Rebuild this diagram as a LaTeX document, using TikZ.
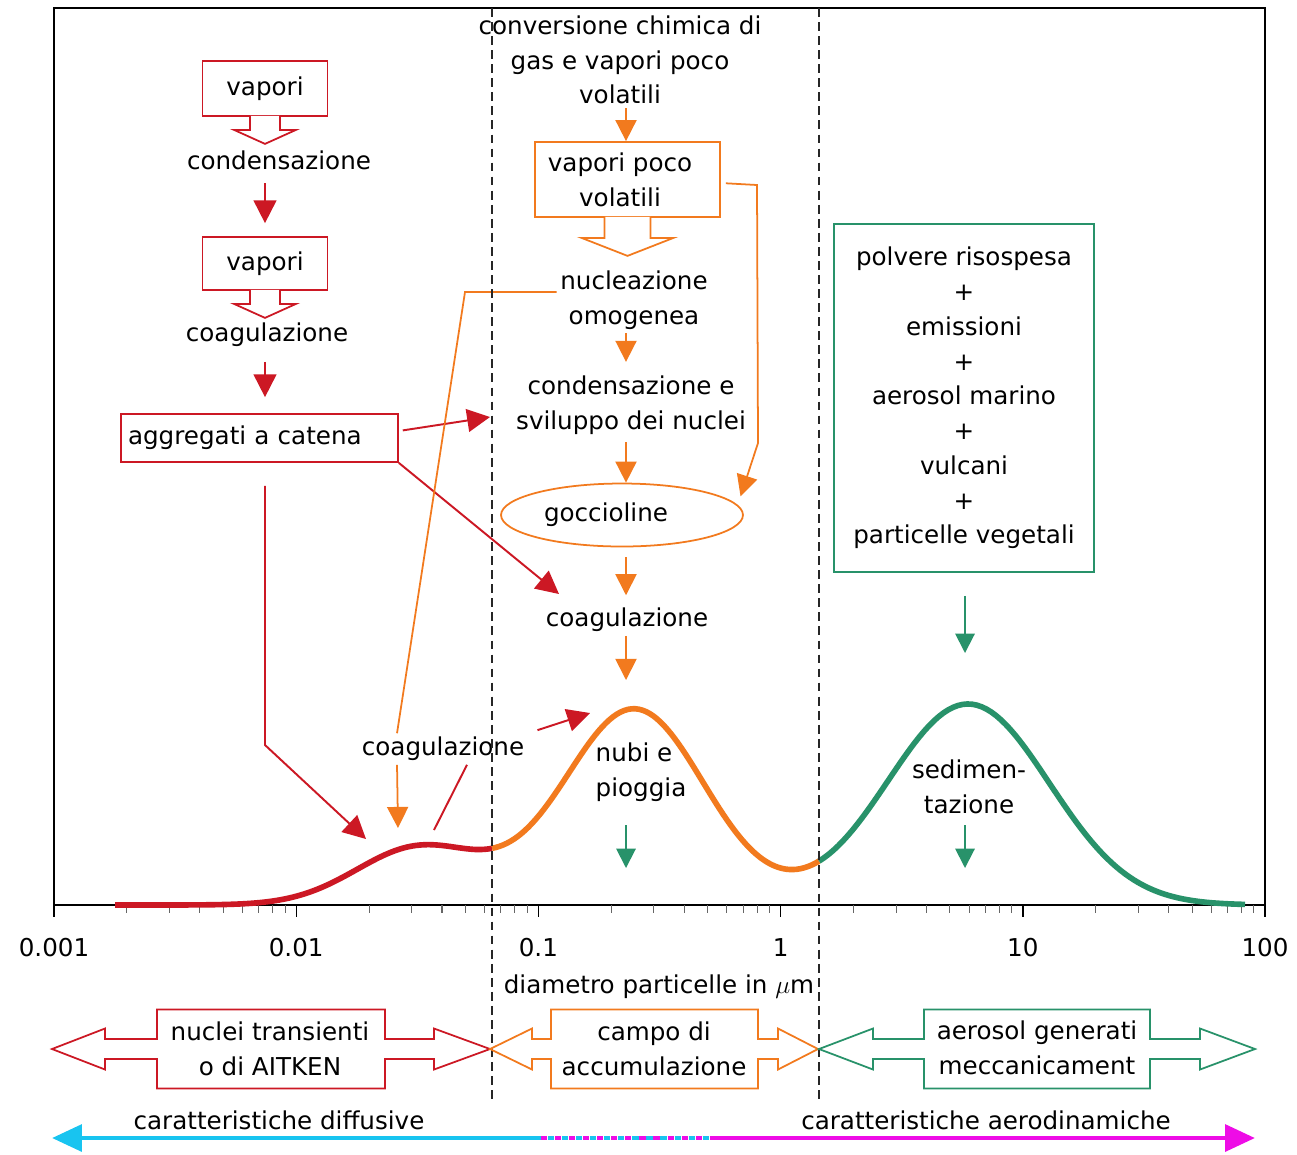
\documentclass[tikz,border=0pt]{standalone}
\usepackage{fontspec}
\setmainfont{DejaVu Sans}
\usetikzlibrary{arrows.meta}
\usetikzlibrary{shapes.geometric}
\definecolor{aitkenred}{RGB}{204,24,36}
\definecolor{accuorange}{RGB}{242,122,30}
\definecolor{mechgreen}{RGB}{40,146,106}
\definecolor{diffcyan}{RGB}{24,196,240}
\definecolor{aeromagenta}{RGB}{238,12,230}

\begin{document}
\begin{tikzpicture}[
    x=0.02cm, y=-0.02cm,
    every node/.style={font=\fontsize{14}{19.8}\selectfont, inner sep=2pt, align=center},
    redbox/.style={rectangle, draw=aitkenred, line width=1pt},
    orangebox/.style={rectangle, draw=accuorange, line width=1pt},
    greenbox/.style={rectangle, draw=mechgreen, line width=1pt},
    redarrow/.style={draw=aitkenred, line width=1.1pt, -{Triangle[length=13pt, width=13pt]}},
    redline/.style={draw=aitkenred, line width=1.1pt},
    orangearrow/.style={draw=accuorange, line width=1pt, -{Triangle[length=12pt, width=12pt]}},
    orangeline/.style={draw=accuorange, line width=1pt},
    greenarrow/.style={draw=mechgreen, line width=1.1pt, -{Triangle[length=11pt, width=11pt]}},
    mode/.style={line width=3.2pt, line join=round},
    boundary/.style={black!85, line width=0.8pt, dash pattern=on 5pt off 3pt},
    declare function={dist(\t)=58*exp(0-((\t-420)/90)^2)+196*exp(0-((\t-634)/100)^2)+201*exp(0-((\t-968)/115)^2);},
    ]

    \path[use as bounding box, fill=white] (0,0) rectangle (1297,1154);

    % axes
    \draw[line width=1.2pt] (54,905) -- (54,8) -- (1265,8) -- (1265,905) -- cycle;
    \foreach \d in {0,...,5} {
        \draw[line width=0.8pt] ({54+242.2*\d},905) -- ++(0,12);
    }
    \foreach \d in {0,...,4} {
        \foreach \m in {2,...,9} {
            \draw[black!60, line width=0.6pt] ({54+242.2*(\d+log10(\m))},905) -- ++(0,8);
        }
    }
    \foreach \d/\v in {0/0.001, 1/0.01, 2/0.1, 3/1, 4/10, 5/100} {
        \node (tick\d) at ({54+242.2*\d},948) {\v};
    }
    \node (xlabel) at (659,987) {diametro particelle in $\mu$m};

    % size distribution
    \draw[mode, aitkenred] plot[domain=115:492, samples=90] (\x, {905-dist(\x)});
    \draw[mode, accuorange] plot[domain=492:819, samples=90] (\x, {905-dist(\x)});
    \draw[mode, mechgreen] plot[domain=819:1245, samples=90] (\x, {905-dist(\x)});

    \coordinate (rcol) at (265,0);
    \coordinate (ocol) at (626,0);
    \coordinate (gcol) at (965,0);

    % left column
    \node (vap1) [redbox, minimum width=2.5cm, minimum height=1.1cm] at (265,88.5) {vapori};
    \draw[aitkenred, line width=1pt, fill=white] (vap1.south) ++(-15,-1) -- ++(0,14)
        -- ++(-16,0) -- ++(31,14) -- ++(31,-14) -- ++(-16,0) -- ++(0,-14);
    \node (cond1) at (279,160) {condensazione};
    \node (vap2) [redbox, minimum width=2.5cm, minimum height=1.06cm] at (265,263.5) {vapori};
    \draw[aitkenred, line width=1pt, fill=white] (vap2.south) ++(-15,-1) -- ++(0,14)
        -- ++(-16,0) -- ++(31,14) -- ++(31,-14) -- ++(-16,0) -- ++(0,-14);
    \node (coag1) at (267,335) {coagulazione};
    \node (agg) [redbox, minimum height=0.96cm, text width=5.26cm, inner xsep=0.14cm,
        align=left] at (259.5,438) {aggregati a catena};

    % middle column
    \node (conv) at (620,60) {conversione chimica di\\gas e vapori poco\\volatili};
    \node (vpv) [orangebox, minimum width=3.7cm, minimum height=1.5cm] at (627.5,179.5)
        {vapori poco\hspace*{0.3cm}\\volatili\hspace*{0.3cm}};
    \draw[accuorange, line width=1pt, fill=white] (vpv.south) ++(-23,-1) -- ++(0,21)
        -- ++(-23,0) -- ++(46,18) -- ++(46,-18) -- ++(-23,0) -- ++(0,-21);
    \node (nucl) at (634,300) {nucleazione\\omogenea};
    \node (condsv) at (631,405) {condensazione e\\sviluppo dei nuclei};
    \node (gocc) [ellipse, draw=accuorange, line width=1pt, minimum width=4.84cm,
        minimum height=1.26cm, inner sep=0] at (622,515) {goccioline\hspace*{0.64cm}};
    \node (coag2) at (627,620) {coagulazione};
    \node (nubi) [align=left] at (641,772) {nubi e\\pioggia};
    \node (coag3) at (443,749) {coagulazione};

    % right column
    \node (sources) [greenbox, minimum width=5.2cm, minimum height=6.96cm] at (964,398)
        {polvere risospesa\\+\\emissioni\\+\\aerosol marino\\+\\vulcani\\+\\particelle vegetali};
    \node (sedim) at (969,787) {sedimen-\\tazione};

    \coordinate (sviluppo-tip) at (490,417);
    \coordinate (coag-tip) at (559,594);
    \coordinate (aitken-bend) at (265,745);
    \coordinate (aitken-tip) at (366,839);
    \coordinate (aitken-hump) at (434,830);
    \coordinate (aitken-drop) at (398,828);
    \coordinate (accu-tip) at (590,713);
    \coordinate (accu-top) at (626,680);
    \coordinate (volatili-knee) at (757,185);
    \coordinate (goccioline-knee) at (758,443);
    \coordinate (nucleazione-knee) at (465,292);
    \coordinate (mech-top) at (965,653);
    \coordinate (nubi-drop) at (626,868);
    \coordinate (sedim-drop) at (965,868);

    \draw[redarrow, shorten <=0.2cm, shorten >=0.26cm] (rcol |- cond1.south) -- (rcol |- vap2.north);
    \draw[redarrow, shorten <=0.22cm, shorten >=0.32cm] (rcol |- coag1.south) -- (rcol |- agg.north);
    \draw[redarrow, shorten <=0.08cm] ([yshift=0.14cm]agg.east) -- (sviluppo-tip);
    \draw[redarrow] (agg.south east) -- (coag-tip);
    \draw[redarrow, shorten <=0.46cm] (rcol |- agg.south) -- (aitken-bend) -- (aitken-tip);
    \draw[redarrow, shorten <=0.2cm] (coag3.north east) -- (accu-tip);
    \draw[redline] ([xshift=0.48cm]coag3.south) -- (aitken-hump);

    \draw[orangearrow] (ocol |- conv.south) -- (ocol |- vpv.north);
    \draw[orangearrow, shorten <=0.1cm, shorten >=0.18cm] ([yshift=-0.07cm]vpv.east)
        -- (volatili-knee) -- (goccioline-knee) -- (gocc.5);
    \draw[orangeline] ([yshift=0.16cm]nucl.west) -- (nucleazione-knee) -- ([xshift=-0.92cm]coag3.north);
    \draw[orangearrow] ([xshift=-0.92cm]coag3.south) -- (aitken-drop);
    \draw[orangearrow, shorten >=0.2cm] (ocol |- nucl.south) -- (ocol |- condsv.north);
    \draw[orangearrow, shorten <=0.08cm] (ocol |- condsv.south) -- (ocol |- gocc.north);
    \draw[orangearrow, shorten <=0.2cm, shorten >=0.18cm] (ocol |- gocc.south) -- (ocol |- coag2.north);
    \draw[orangearrow] (ocol |- coag2.south) -- (accu-top);

    \draw[greenarrow, shorten <=0.46cm] (gcol |- sources.south) -- (mech-top);
    \draw[greenarrow, shorten <=0.4cm] (ocol |- nubi.south) -- (nubi-drop);
    \draw[greenarrow, shorten <=0.15cm] (gcol |- sedim.south) -- (sedim-drop);

    % mode ranges
    \draw[boundary] (492,8) -- (492,1100);
    \draw[boundary] (819,8) -- (819,1100);
    \foreach \L/\hl/\bl/\br/\hr/\R/\c in {52/105/157/385/434/490/aitkenred,
            490/532/551/758/778/818/accuorange, 819/873/924/1150/1200/1255/mechgreen} {
        \draw[\c, line width=1pt, line join=miter] (\L,1049) -- (\hl,1028.5) -- (\hl,1039)
            -- (\bl,1039) -- (\bl,1009.5) -- (\br,1009.5) -- (\br,1039) -- (\hr,1039)
            -- (\hr,1028.5) -- (\R,1049) -- (\hr,1069.5) -- (\hr,1059) -- (\br,1059)
            -- (\br,1088.5) -- (\bl,1088.5) -- (\bl,1059) -- (\hl,1059) -- (\hl,1069.5) -- cycle;
    }
    \node (aitken) at (270,1049) {nuclei transienti\\o di AITKEN};
    \node (accu) at (654,1049) {campo di\\accumulazione};
    \node (mech) at (1037,1048) {aerosol generati\\meccanicament};

    \draw[diffcyan, line width=2.8pt, -{Triangle[length=17pt, width=15pt]}] (541,1138) -- (52,1138);
    \draw[aeromagenta, line width=2.8pt, -{Triangle[length=17pt, width=15pt]}] (716,1138) -- (1255,1138);
    \draw[aeromagenta, line width=2.8pt, dash pattern=on 3.5pt off 4.5pt] (541,1138) -- (716,1138);
    \draw[diffcyan, line width=2.8pt, dash pattern=on 3.5pt off 4.5pt, dash phase=4pt] (541,1138) -- (716,1138);
    \node (diff) at (279,1120) {caratteristiche diffusive};
    \node (aero) at (986,1120) {caratteristiche aerodinamiche};
\end{tikzpicture}
\end{document}
